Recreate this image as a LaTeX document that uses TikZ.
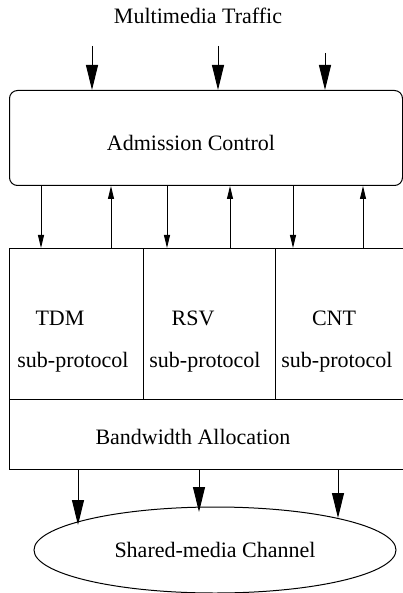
\documentclass[tikz,border=0pt]{standalone}
\usepackage{fontspec}
\setmainfont{Liberation Serif}
\usetikzlibrary{arrows.meta,shapes.geometric}
\tikzset{
  blk/.style={draw, line width=1pt, inner sep=0pt, anchor=north west},
  txt/.style={inner sep=0pt},
  bigarr/.style={line width=1pt, -{Triangle[length=25pt,width=12pt]}},
  smallarr/.style={line width=1pt, -{Triangle[length=13pt,width=6pt]}}
}
\begin{document}
\begin{tikzpicture}[x=1pt,y=-1pt,font=\fontsize{22}{26}\selectfont]
\clip (0,0) rectangle (403,593);
% admission control
\node[txt] (traffic) at (198,16) {Multimedia Traffic};
\node[blk,rounded corners=8pt,minimum width=393pt,minimum height=95pt] (adm) at (9,90) {};
\node[txt] (admtxt) at (191,143) {Admission Control};
\coordinate (in1) at (92,46);
\coordinate (in2) at (218,46);
\coordinate (in3) at (325,53);
\foreach \i in {1,2,3} \draw[bigarr] (in\i) -- (in\i |- adm.north);
% sub-protocols
\node[blk,minimum width=134pt,minimum height=151pt] (tdm) at (9,248) {};
\node[blk,minimum width=132pt,minimum height=151pt] (rsv) at (143,248) {};
\node[blk,minimum width=135pt,minimum height=151pt] (cnt) at (275,248) {};
\node[txt] (tdmname) at (60,318) {TDM};
\node[txt] (tdmsub) at (73,362) {sub-protocol};
\node[txt] (rsvname) at (193,318) {RSV};
\node[txt] (rsvsub) at (205,362) {sub-protocol};
\node[txt] (cntname) at (334,318) {CNT};
\node[txt] (cntsub) at (337,362) {sub-protocol};
\foreach \x in {41,167,293} \draw[smallarr] (adm.south -| \x,0) -- (tdm.north -| \x,0);
\foreach \x in {111,230,363} \draw[smallarr] (tdm.north -| \x,0) -- (adm.south -| \x,0);
% bandwidth allocation and channel
\node[blk,minimum width=396pt,minimum height=70pt] (bw) at (9,399) {};
\node[txt] (bwtxt) at (193,437) {Bandwidth Allocation};
\node[draw,ellipse,line width=1pt,minimum width=362pt,minimum height=86pt,inner sep=0pt] (chan) at (215,550) {Shared-media Channel};
\coordinate (out1) at (78,525);
\coordinate (out2) at (199,512);
\coordinate (out3) at (338,518);
\foreach \i in {1,2,3} \draw[bigarr] (bw.south -| out\i) -- (out\i);
\end{tikzpicture}
\end{document}
